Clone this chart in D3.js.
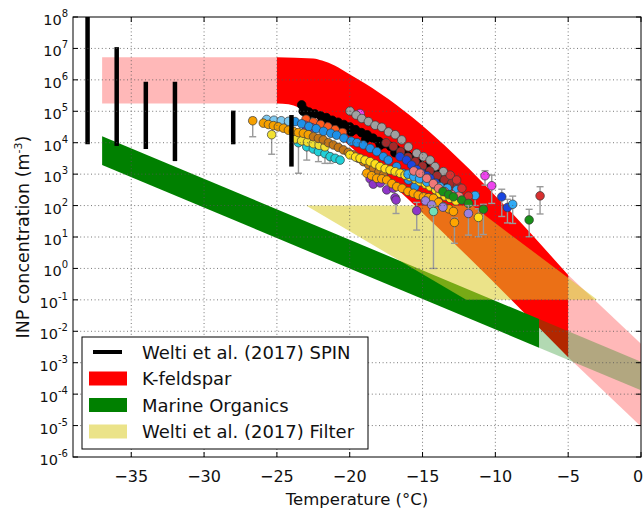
<!DOCTYPE html>
<html><head><meta charset="utf-8">
<script src="https://cdn.jsdelivr.net/npm/d3@7"></script>
<style>body{margin:0;background:#fff}svg{display:block;font-family:"DejaVu Sans",sans-serif}</style>
</head><body><svg id="c" width="644" height="514"></svg>
<script>
// ---------- data ----------
const xTicks = [-35, -30, -25, -20, -15, -10, -5, 0];
const yTickExps = [-6, -5, -4, -3, -2, -1, 0, 1, 2, 3, 4, 5, 6, 7, 8];
const legendLabels = ["Welti et al. (2017) SPIN", "K-feldspar", "Marine Organics", "Welti et al. (2017) Filter"];

// K-feldspar parameterisation band
const kfLeftBand = [[-37, 1.78e5, 5.25e6], [-25, 1.78e5, 5.25e6]];
const kfUpper = [[-25, 5.25e6], [-22.5, 4.8e6], [-21.9, 4.1e6], [-21, 2.8e6], [-20.1, 1.6e6], [-19, 7.9e5], [-17.9, 3.7e5], [-5, 0.62]];
const kfLower = [[-5, 1.5e-3], [-20, 7.9e3], [-21, 2.0e4], [-22, 4.8e4], [-22.8, 8.9e4], [-23.5, 1.32e5], [-24.2, 1.66e5], [-25, 1.78e5]];
const kfRightBand = [[-5, 1.5e-3, 0.62], [0, 9.3e-6, 4.0e-3]];
// Marine organics band
const moBand = [[-37, 1.95e3, 1.62e4], [-7, 3.0e-3, 0.0245]];
const moExtBand = [[-7, 3.0e-3, 0.0245], [0, 1.33e-4, 1.07e-3]];
// Welti filter region
const filterPoly = [[-23, 100], [-11.6, 100], [-3, 0.1], [-12, 0.1]];
// SPIN vertical ranges [T, low, high]
const spinBars = [[-38, 9e3, 2e8], [-36, 7.9e3, 1.1e7], [-34, 6.3e3, 8.7e5], [-32, 2.6e3, 8.7e5], [-28, 8.9e3, 1.05e5], [-24, 1.74e3, 7.6e4]];

// measurement series: [T, N] or [T, N, errLow, errHigh]
const spinBlack = [[-23.3,1.6e5],[-23.2,1.0e5],[-23.1,1.1e5],[-22.8,9.5e4],[-22.4,8.3e4],[-22.0,7.2e4],[-21.6,6.3e4],[-21.2,5.2e4],[-20.8,4.5e4],[-20.4,3.8e4],[-20.0,3.2e4],[-19.6,2.6e4],[-19.2,2.1e4],[-18.8,1.8e4],[-18.4,1.4e4],[-18.0,1.1e4],[-17.6,9.3e3],[-17.2,7.6e3],[-16.8,6.0e3],[-16.4,4.8e3],[-16.0,3.8e3],[-15.6,2.8e3],[-15.2,2.2e3],[-14.8,1.7e3],[-14.4,1.26e3],[-14.0,1.0e3],[-13.6,710],[-13.2,500],
  [-22.9,7.1e4],[-21.9,5.0e4],[-20.9,3.3e4],[-19.9,2.2e4],[-18.9,1.3e4],[-17.9,8.3e3],[-16.9,4.8e3],[-15.9,2.8e3],[-14.9,1.4e3],[-13.9,760]];
const sGray = [[-19.98,1.02e5],[-19.56,7.6e4],[-19.17,5.9e4],[-18.72,4.7e4],[-18.26,3.6e4],[-17.8,3.1e4],[-17.34,2.2e4],[-16.88,1.8e4],[-16.43,1.23e4],[-15.97,7.4e3],[-15.4,4.6e3],[-14.94,3.6e3],[-14.48,2.8e3],[-14.14,1.74e3],[-13.57,1.2e3],[-13.11,830],[-12.54,400]];
const sFirebrick = [[-17.5,1.0e4],[-17.0,7.6e3],[-16.5,5.2e3],[-16.0,3.5e3],[-15.5,2.5e3],[-15.0,1.8e3],[-14.5,1.26e3],[-14.0,890],[-13.5,660],[-13.0,520],[-12.6,420]];
const sOrangeRed = [[-23.0,5.6e4],[-22.5,4.5e4],[-22.0,3.8e4],[-21.5,3.2e4],[-21.0,2.6e4],[-20.5,2.1e4]];
const sLightBlue = [[-25.7,5.5e4],[-25.2,5.2e4],[-24.7,5.0e4],[-24.2,4.8e4]];
const sOrangeA = [[-26.66,5.0e4,1.55e4,6.3e4],[-25.93,4.2e4],[-25.58,3.8e4],[-25.24,3.5e4],[-24.9,3.2e4],[-24.55,2.9e4],[-24.21,2.5e4],[-23.87,2.3e4],[-23.52,2.1e4],[-23.18,2.0e4],[-22.84,1.8e4]];
const sDodger = [[-23.75,4.7e4],[-23.3,4.0e4],[-22.8,3.3e4],[-22.3,2.8e4],[-21.8,2.3e4],[-21.3,2.0e4],[-20.9,1.74e4],[-20.4,1.4e4],[-19.9,1.12e4],[-19.5,1.0e4],[-19.06,8.5e3],[-18.6,6.6e3],[-18.14,5.2e3],[-17.69,3.6e3],[-17.35,2.8e3],[-16.78,1.74e3],[-16.32,1.07e3],[-15.97,650],[-15.52,400]];
const sPurple = [[-23.07,3.6e4],[-22.6,3.0e4],[-18.6,710],[-18.38,480],[-17.9,525],[-17.46,316],[-17.0,355],[-16.89,178],[-16.82,150,56,200],[-15.4,69,16.6,126]];
const sBrown = [[-22.49,1.55e4],[-22.15,1.38e4],[-21.81,1.23e4],[-21.46,1.0e4],[-21.12,8.5e3],[-20.78,7.1e3],[-20.43,5.9e3],[-20.1,4.9e3],[-19.75,4.1e3],[-19.4,3.2e3],[-19.06,2.5e3],[-18.7,2.0e3],[-18.37,1.5e3],[-18.0,1.17e3],[-17.69,930]];
const sYellowA = [[-25.36,1.8e4,4.3e3,2.2e4],[-23.7,1.32e4],[-23.3,1.15e4],[-22.9,1.05e4],[-22.5,9.3e3],[-22.1,8.3e3],[-21.7,7.4e3]];
const sCyan = [[-23.52,1.0e4,1.07e3,1.2e4],[-22.95,7.4e3,2.8e3,9e3],[-22.5,6.3e3],[-22.15,5.2e3,2.5e3,6e3],[-21.7,4.5e3,2.2e3,5.2e3],[-21.35,3.6e3,2.2e3,4.2e3],[-21.0,3.2e3],[-20.66,2.8e3]];
const sYellowB = [[-19.98,4.1e3],[-19.6,3.5e3],[-19.29,3.2e3],[-18.95,2.8e3],[-18.6,2.5e3],[-18.25,2.1e3],[-17.92,1.74e3],[-17.57,1.5e3],[-17.23,1.35e3],[-16.88,1.2e3],[-16.54,1.07e3],[-16.2,930],[-15.86,830],[-15.5,690],[-15.17,575],[-14.8,480],[-14.48,400],[-14.1,316],[-13.8,245],[-13.45,200],[-13.11,170],[-12.7,141],[-11.16,42,10.2,79]];
const sOrangeB = [[-18.83,1.07e3],[-18.5,890],[-18.14,740],[-17.8,710],[-17.46,650],[-17.1,500],[-16.77,400],[-16.4,355],[-16.0,282],[-15.63,245],[-15.3,214],[-14.94,190],[-14.6,178],[-14.25,170],[-13.9,126],[-13.57,93],[-13.2,79],[-12.88,65],[-12.81,29,6.3,40]];
const sDarkBlue = [[-16.55,3.6e3],[-16.1,2.8e3],[-15.75,1.95e3],[-15.4,1.4e3],[-15.06,1.07e3],[-14.7,890],[-14.49,740],[-14.1,525],[-13.8,400],[-13.4,316],[-9.56,190,45,331],[-9.17,87,28,158]];
const sSkyBlue = [[-16.0,1.0e3],[-15.6,830],[-15.2,710],[-14.7,560],[-14.2,460],[-13.8,400],[-13.3,355],[-12.65,316],[-11.39,210,100,260],[-8.81,110,27,200]];
const sSalmon = [[-15.6,1.26e3],[-15.17,1.07e3],[-14.71,740],[-14.26,500],[-13.9,355],[-13.5,280],[-13.0,224],[-12.5,200]];
const sCrimson = [[-13.1,930],[-12.66,650],[-12.3,355],[-11.85,200],[-6.93,204,54,398]];
const sGreen = [[-13.6,280],[-13.2,224],[-12.88,190],[-12.31,150],[-11.85,117],[-10.82,76,12,110],[-7.68,35,10.2,76]];
const sMagenta = [[-19.29,8.5e4],[-10.71,890,447,1290],[-10.25,427,117,933]];
const sMedPurple = [[-14.8,141],[-14.37,105],[-13.6,89],[-11.85,56,11.5,100]];
const sAqua = [[-14.25,65,1.0,100]];

// ---------- drawing ----------
const svg = d3.select("#c");
const L = 73, R = 641, T0 = 17, B = 457;
const x = d3.scaleLinear().domain([-39, 0]).range([L, R]);
const y = d3.scaleLog().domain([1e-6, 1e8]).range([B, T0]);
const FILTER_FILL = "rgb(218,204,40)", FILTER_OP = 0.55;

svg.append("defs").append("clipPath").attr("id", "clip")
  .append("rect").attr("x", L).attr("y", T0).attr("width", R - L).attr("height", B - T0);
const g = svg.append("g").attr("clip-path", "url(#clip)");

const band = d3.area().x(d => x(d[0])).y0(d => y(d[1])).y1(d => y(d[2]));
const mono = d3.line().x(d => x(d[0])).y(d => y(d[1])).curve(d3.curveMonotoneX);

// K-feldspar
g.append("path").attr("d", band(kfLeftBand)).attr("fill", "#ff0000").attr("fill-opacity", 0.28);
g.append("path").attr("d", band(kfRightBand)).attr("fill", "#ff0000").attr("fill-opacity", 0.28);
g.append("path").attr("d", mono(kfUpper) + mono(kfLower).replace(/^M/, "L") + "Z").attr("fill", "#ff0000");
// Marine organics
g.append("path").attr("d", band(moBand)).attr("fill", "#008000");
g.append("path").attr("d", band(moExtBand)).attr("fill", "#008000").attr("fill-opacity", 0.3);
// Filter
g.append("path").attr("d", d3.line().x(d => x(d[0])).y(d => y(d[1]))(filterPoly) + "Z")
  .attr("fill", FILTER_FILL).attr("fill-opacity", FILTER_OP);

// measurement series
const series = [
  {d: spinBlack, c: "#000000"},
  {d: sLightBlue, c: "#7ec8f0"},
  {d: sOrangeRed, c: "#ff5a1e"},
  {d: sMagenta, c: "#ee44ee"},
  {d: sGray, c: "#a0a0a0"},
  {d: sFirebrick, c: "#a52a2a"},
  {d: sPurple, c: "#8e35c8"},
  {d: sDodger, c: "#1e90e8"},
  {d: sCyan, c: "#20d0d8"},
  {d: sYellowA, c: "#f2e030"},
  {d: sOrangeA, c: "#f5a000"},
  {d: sBrown, c: "#c47616"},
  {d: sYellowB, c: "#ffe01a"},
  {d: sDarkBlue, c: "#1a45e0"},
  {d: sSkyBlue, c: "#30aaf5"},
  {d: sSalmon, c: "#f07878"},
  {d: sCrimson, c: "#d83030"},
  {d: sOrangeB, c: "#ffa500"},
  {d: sGreen, c: "#189018"},
  {d: sMedPurple, c: "#9a80e0"},
  {d: sAqua, c: "#70e0b8"}
];
series.forEach(s => {
  const eb = s.d.filter(p => p.length > 2);
  const ge = g.append("g").attr("stroke", "#9a9a9a").attr("stroke-width", 1.4);
  eb.forEach(p => {
    ge.append("line").attr("x1", x(p[0])).attr("x2", x(p[0])).attr("y1", y(p[2])).attr("y2", y(p[3]));
    [p[2], p[3]].forEach(v => ge.append("line").attr("x1", x(p[0]) - 3.5).attr("x2", x(p[0]) + 3.5).attr("y1", y(v)).attr("y2", y(v)));
  });
  g.append("g").selectAll("circle").data(s.d).join("circle")
    .attr("cx", p => x(p[0])).attr("cy", p => y(p[1])).attr("r", 4.3)
    .attr("fill", s.c).attr("stroke", s.c === "#000000" ? "#000" : "#3a3a3a").attr("stroke-width", 0.7);
});

// SPIN bars
g.append("g").selectAll("line").data(spinBars).join("line")
  .attr("x1", d => x(d[0])).attr("x2", d => x(d[0])).attr("y1", d => y(d[1])).attr("y2", d => y(d[2]))
  .attr("stroke", "#000").attr("stroke-width", 4.5);

// grid
const grid = svg.append("g").attr("stroke", "#555").attr("stroke-width", 0.8).attr("stroke-dasharray", "1,2.6");
xTicks.filter(t => t > -39 && t < 0).forEach(t => grid.append("line").attr("x1", x(t)).attr("x2", x(t)).attr("y1", T0).attr("y2", B));
yTickExps.filter(e => e > -6 && e < 8).forEach(e => grid.append("line").attr("x1", L).attr("x2", R).attr("y1", y(Math.pow(10, e))).attr("y2", y(Math.pow(10, e))));

// frame + ticks
svg.append("rect").attr("x", L).attr("y", T0).attr("width", R - L).attr("height", B - T0).attr("fill", "none").attr("stroke", "#000").attr("stroke-width", 1);
const tk = svg.append("g").attr("stroke", "#000").attr("stroke-width", 1);
xTicks.forEach(t => {
  tk.append("line").attr("x1", x(t)).attr("x2", x(t)).attr("y1", B).attr("y2", B - 5);
  tk.append("line").attr("x1", x(t)).attr("x2", x(t)).attr("y1", T0).attr("y2", T0 + 5);
});
yTickExps.forEach(e => {
  const yy = y(Math.pow(10, e));
  tk.append("line").attr("x1", L).attr("x2", L + 5).attr("y1", yy).attr("y2", yy);
  tk.append("line").attr("x1", R).attr("x2", R - 5).attr("y1", yy).attr("y2", yy);
});

// tick labels
svg.append("g").selectAll("text").data(xTicks).join("text")
  .attr("x", d => d === 0 ? x(d) - 3 : x(d)).attr("y", 482).attr("text-anchor", "middle").attr("font-size", 16).attr("fill", "#111")
  .text(d => d < 0 ? "\u2212" + Math.abs(d) : String(d));
yTickExps.forEach(e => {
  const t = svg.append("text").attr("x", 68).attr("y", y(Math.pow(10, e)) + 8).attr("text-anchor", "end").attr("fill", "#111");
  t.append("tspan").attr("font-size", 14.5).text("10");
  t.append("tspan").attr("font-size", 10).attr("dy", -8).text(String(e));
});

// axis titles
svg.append("text").attr("x", (L + R) / 2).attr("y", 505).attr("text-anchor", "middle").attr("font-size", 16.5).attr("fill", "#111").text("Temperature (°C)");
const yl = svg.append("text").attr("transform", "translate(29,237) rotate(-90)").attr("text-anchor", "middle").attr("font-size", 17.5).attr("fill", "#111");
yl.append("tspan").text("INP concentration (m");
yl.append("tspan").attr("font-size", 11).attr("dy", -7).text("-3");
yl.append("tspan").attr("dy", 7).text(")");

// legend
const lg = svg.append("g");
lg.append("rect").attr("x", 82).attr("y", 337).attr("width", 286).attr("height", 112).attr("fill", "#fff").attr("stroke", "#000").attr("stroke-width", 1);
const rows = [352, 378.5, 405, 431.5];
lg.append("line").attr("x1", 93).attr("x2", 122).attr("y1", rows[0]).attr("y2", rows[0]).attr("stroke", "#000").attr("stroke-width", 4);
lg.append("rect").attr("x", 89).attr("y", rows[1] - 7).attr("width", 38).attr("height", 14).attr("fill", "#ff0000");
lg.append("rect").attr("x", 89).attr("y", rows[2] - 7).attr("width", 38).attr("height", 14).attr("fill", "#008000");
lg.append("rect").attr("x", 89).attr("y", rows[3] - 7).attr("width", 38).attr("height", 14).attr("fill", FILTER_FILL).attr("fill-opacity", FILTER_OP);
legendLabels.forEach((t, i) => lg.append("text").attr("x", 142).attr("y", rows[i] + 6.5).attr("font-size", 18).attr("fill", "#111").text(t));
</script></body></html>
